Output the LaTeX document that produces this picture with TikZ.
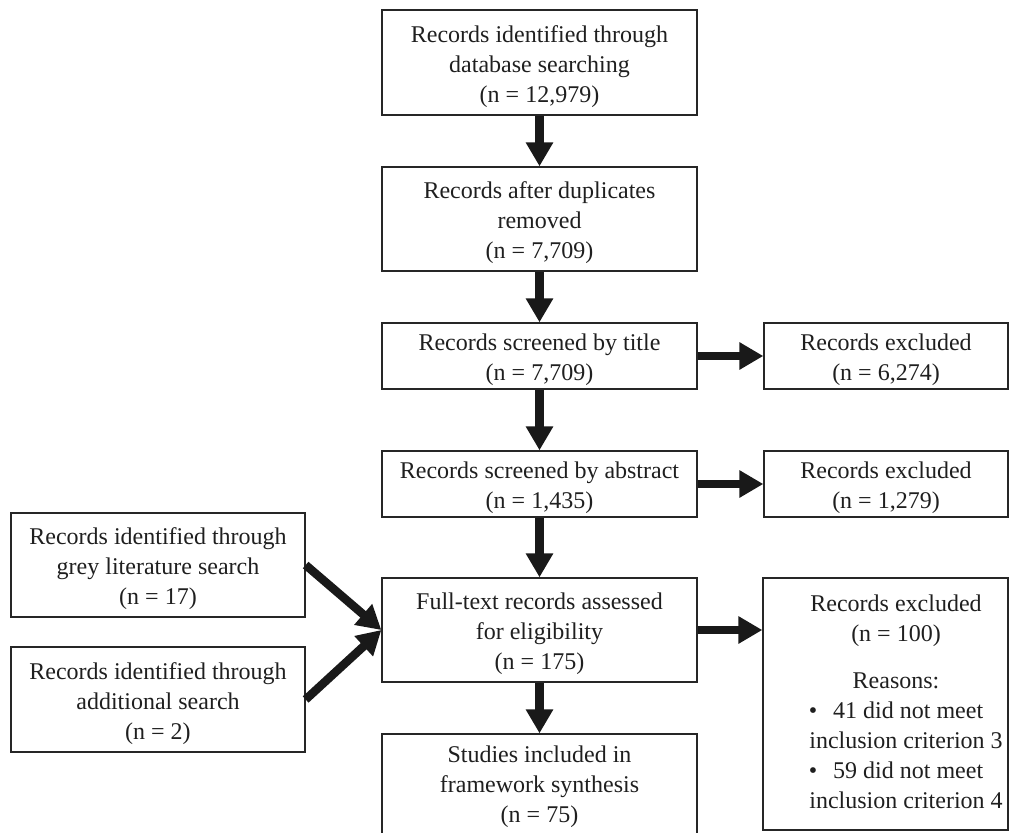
\documentclass[tikz,border=0pt]{standalone}
\usepackage{fontspec}
\setmainfont{Liberation Serif}
\usetikzlibrary{arrows.meta}
\begin{document}
\begin{tikzpicture}[x=1pt,y=-1pt,
 box/.style={draw=black!85, line width=1.3pt, inner sep=0pt},
 txt/.style={align=center, inner sep=0pt, font=\fontsize{24}{30}\selectfont, text=black!88},
 lbl/.style={label={[txt,yshift=-4pt]center:#1}},
 arr/.style={line width=8.5pt, draw=black!90, -{Triangle[width=26pt,length=24pt]}}
]
\useasboundingbox (0,0) rectangle (1019,832);
% main column
\node[box, minimum width=315pt, minimum height=105pt, lbl={Records identified through\\database searching\\(n = 12,979)}] (b1) at (539.5,62.5) {};
\node[box, minimum width=315pt, minimum height=104pt, lbl={Records after duplicates\\removed\\(n = 7,709)}] (b2) at (539.5,219) {};
\node[box, minimum width=315pt, minimum height=66pt, lbl={Records screened by title\\(n = 7,709)}] (b3) at (539.5,356) {};
\node[box, minimum width=315pt, minimum height=66pt, lbl={Records screened by abstract\\(n = 1,435)}] (b4) at (539.5,484) {};
\node[box, minimum width=315pt, minimum height=104pt, lbl={Full-text records assessed\\for eligibility\\(n = 175)}] (b5) at (539.5,630) {};
\node[box, minimum width=315pt, minimum height=106pt] (b6) at (539.5,787) {};
\node[txt] (b6t) at (539.5,787) {Studies included in\\framework synthesis\\(n = 75)};
% right column
\node[box, minimum width=244pt, minimum height=66pt, lbl={Records excluded\\(n = 6,274)}] (e1) at (886,356) {};
\node[box, minimum width=244pt, minimum height=66pt, lbl={Records excluded\\(n = 1,279)}] (e2) at (886,484) {};
\node[box, minimum width=245pt, minimum height=252pt] (e3) at (885.5,704) {};
\node[txt] (e3t) at (896,701.5) {Records excluded\\(n = 100)\\[17pt]Reasons:\\\textbullet\hspace{16pt}41 did not meet\\\hspace*{20pt}inclusion criterion 3\\\textbullet\hspace{16pt}59 did not meet\\\hspace*{20pt}inclusion criterion 4};
% left column
\node[box, minimum width=294pt, minimum height=104pt, lbl={Records identified through\\grey literature search\\(n = 17)}] (g1) at (158,565) {};
\node[box, minimum width=294pt, minimum height=105pt, lbl={Records identified through\\additional search\\(n = 2)}] (g2) at (158,699.5) {};
% arrows
\draw[arr] (b1.south) -- (b2.north);
\draw[arr] (b2.south) -- (b3.north);
\draw[arr] (b3.south) -- (b4.north);
\draw[arr] (b4.south) -- (b5.north);
\draw[arr] (b5.south) -- (b6.north);
\draw[arr] (b3.east) -- (e1.west);
\draw[arr] (b4.east) -- (e2.west);
\draw[arr] (b5.east) -- (b5.east -| e3.west);
\draw[arr] (g1.east) -- (b5.west);
\draw[arr] (g2.east) -- (b5.west);
\end{tikzpicture}
\end{document}
